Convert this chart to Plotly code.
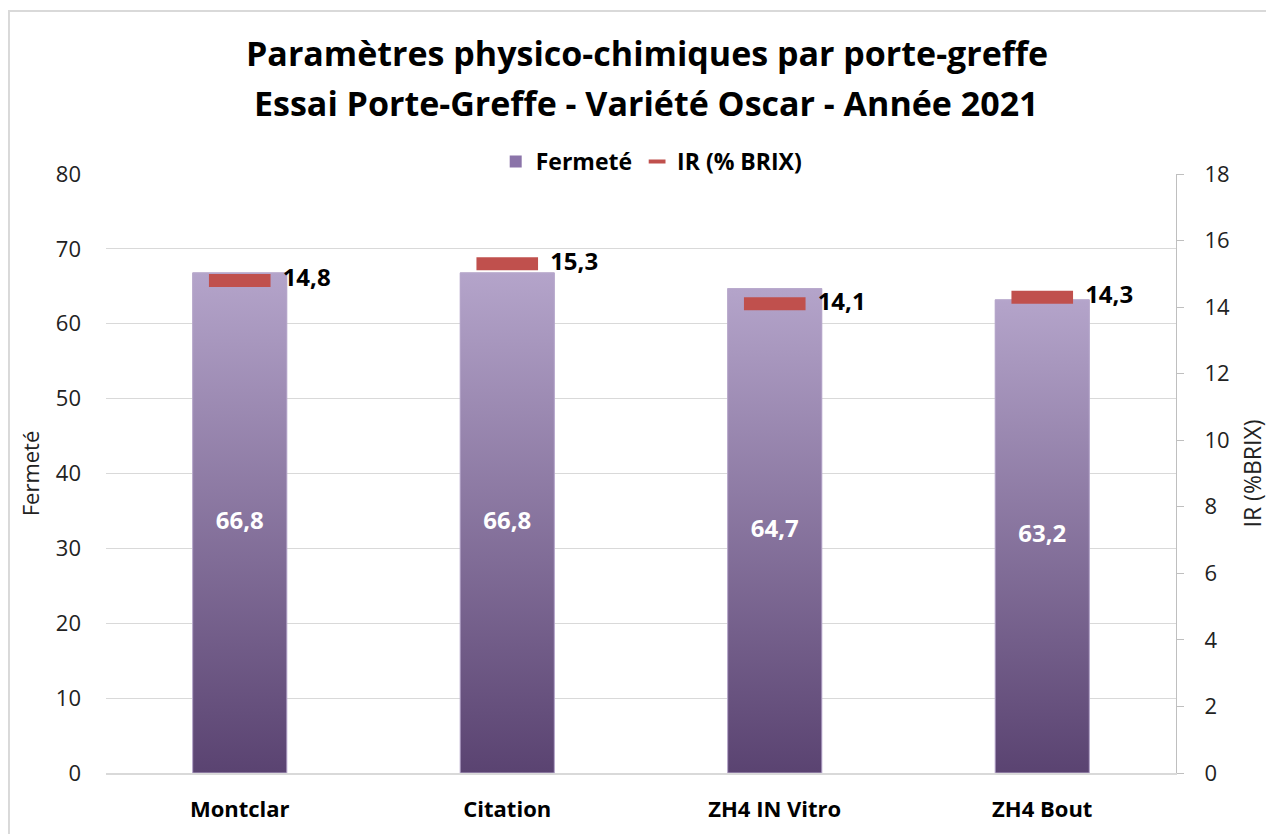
import plotly.graph_objects as go

categories = ["Montclar", "Citation", "ZH4 IN Vitro", "ZH4 Bout"]
fermete = [66.8, 66.8, 64.7, 63.2]
ir_brix = [14.8, 15.3, 14.1, 14.3]
fermete_labels = ["66,8", "66,8", "64,7", "63,2"]
ir_labels = ["14,8", "15,3", "14,1", "14,3"]

FONT = "Open Sans"
BAR_W = 0.352
DARK = "#5a4371"
LIGHT = "#b4a4ca"
MID = "#8b74a9"
RED = "#c0504d"

fig = go.Figure()

# data bars (carry the legend entry), covered by gradient fill
fig.add_trace(go.Bar(
    x=list(range(len(categories))),
    y=fermete,
    width=BAR_W,
    marker=dict(color=MID, line=dict(width=0)),
    name="Fermeté",
    hoverinfo="skip",
))

# gradient overlay for each bar
for i, v in enumerate(fermete):
    h = BAR_W / 2
    fig.add_trace(go.Scatter(
        x=[i - h, i + h, i + h, i - h, i - h],
        y=[0, 0, v, v, 0],
        mode="lines",
        fill="toself",
        fillgradient=dict(type="vertical", colorscale=[[0, DARK], [1, LIGHT]]),
        line=dict(color="#b9aacd", width=1),
        showlegend=False,
        hoverinfo="skip",
    ))

# bar labels
fig.add_trace(go.Scatter(
    x=list(range(len(categories))),
    y=[v / 2 for v in fermete],
    mode="text",
    text=fermete_labels,
    textfont=dict(family=FONT, size=24, color="white", weight="bold"),
    showlegend=False,
    hoverinfo="skip",
))

# IR markers
fig.add_trace(go.Scatter(
    x=list(range(len(categories))),
    y=ir_brix,
    yaxis="y2",
    mode="markers",
    marker=dict(symbol="line-ew", size=44, line=dict(color=RED, width=13), color=RED),
    name="IR (% BRIX)",
    showlegend=False,
    hoverinfo="skip",
))
# IR labels
fig.add_trace(go.Scatter(
    x=list(range(len(categories))),
    y=ir_brix,
    yaxis="y2",
    mode="markers+text",
    marker=dict(size=67, color="rgba(0,0,0,0)"),
    text=ir_labels,
    textposition="middle right",
    textfont=dict(family=FONT, size=24, color="black", weight="bold"),
    showlegend=False,
    hoverinfo="skip",
))
# legend entry for IR
fig.add_trace(go.Scatter(
    x=[None], y=[None], yaxis="y2",
    mode="markers",
    marker=dict(symbol="line-ew", size=12, line=dict(color=RED, width=4), color=RED),
    name="IR (% BRIX)",
))

fig.update_layout(
    width=1274,
    height=834,
    paper_bgcolor="white",
    plot_bgcolor="white",
    margin=dict(l=98, r=106, t=166, b=69),
    font=dict(family=FONT, size=22, color="#222222"),
    showlegend=True,
    legend=dict(
        orientation="h", x=0.51, xanchor="center", y=0.985, yanchor="bottom",
        font=dict(family=FONT, size=23, color="black", weight="bold"),
        bgcolor="rgba(0,0,0,0)",
        itemwidth=30,
    ),
    xaxis=dict(
        range=[-0.5, 3.5],
        tickvals=list(range(len(categories))),
        ticktext=categories,
        tickfont=dict(family=FONT, size=22, color="black", weight="bold"),
        showgrid=False,
        zeroline=False,
        showline=True,
        linecolor="#d9d9d9",
        linewidth=2,
        ticks="",
        ticklabelstandoff=16,
    ),
    yaxis=dict(
        range=[0, 80],
        dtick=10,
        tickfont=dict(family=FONT, size=22, color="#222222"),
        title=dict(text="Fermeté", font=dict(family=FONT, size=22, color="#222222"), standoff=10),
        gridcolor="#d9d9d9",
        gridwidth=1,
        zeroline=False,
        showline=False,
        ticks="",
        ticklabelstandoff=24,
    ),
    yaxis2=dict(
        range=[0, 18],
        dtick=2,
        overlaying="y",
        side="right",
        tickfont=dict(family=FONT, size=22, color="#222222"),
        title=dict(text="IR (%BRIX)", font=dict(family=FONT, size=23, color="#222222"), standoff=15),
        showgrid=False,
        zeroline=False,
        showline=True,
        linecolor="#bfbfbf",
        linewidth=1,
        ticks="outside",
        ticklen=7,
        tickcolor="#bfbfbf",
        ticklabelstandoff=16,
    ),
    annotations=[
        dict(text="Paramètres physico-chimiques par porte-greffe", xref="paper", yref="paper",
             x=0.5056, y=1.2020, xanchor="center", yanchor="middle", showarrow=False,
             font=dict(family=FONT, size=34, color="black", weight="bold")),
        dict(text="Essai Porte-Greffe - Variété Oscar - Année 2021", xref="paper", yref="paper",
             x=0.5056, y=1.1185, xanchor="center", yanchor="middle", showarrow=False,
             font=dict(family=FONT, size=34, color="black", weight="bold")),
    ],
    shapes=[dict(type="rect", xref="paper", yref="paper", x0=-0.0907, x1=1.2, y0=-0.3, y1=1.272,
                 line=dict(color="#d9d9d9", width=2), fillcolor="rgba(0,0,0,0)", layer="below")],
)

fig.write_html("out.html")
